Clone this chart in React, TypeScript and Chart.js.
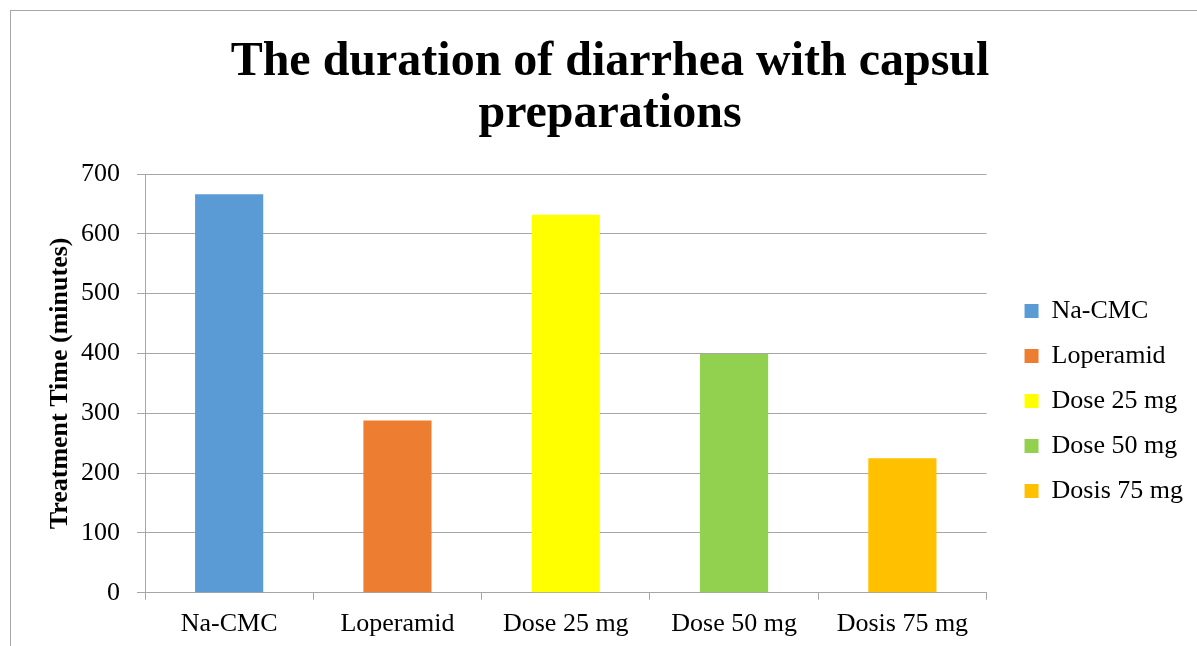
import React, { useEffect, useRef } from "react";
import { Chart, registerables } from "chart.js";

Chart.register(...registerables);

const categories = ["Na-CMC", "Loperamid", "Dose 25 mg", "Dose 50 mg", "Dosis 75 mg"];
const treatmentMinutes = [666, 288, 632, 399, 225];
const barColors = ["#5B9BD5", "#ED7D31", "#FFFF00", "#92D050", "#FFC000"];
const titleLines = ["The duration of diarrhea with capsul", "preparations"];
const yAxisTitle = "Treatment Time (minutes)";

const FONT = '"Liberation Serif", "Times New Roman", serif';
const GRID = "#a6a6a6";

export default function App() {
  const ref = useRef<HTMLCanvasElement | null>(null);

  useEffect(() => {
    if (!ref.current) return;
    const chart = new Chart(ref.current, {
      type: "bar",
      data: {
        labels: categories,
        datasets: [
          {
            label: yAxisTitle,
            data: treatmentMinutes,
            backgroundColor: barColors,
            borderWidth: 0,
            categoryPercentage: 1,
            barPercentage: 0.405,
            yAxisID: "y",
          },
        ],
      },
      options: {
        animation: false,
        responsive: false,
        devicePixelRatio: 1,
        layout: { padding: { top: 0, left: 16, right: 16, bottom: 0 } },
        plugins: {
          tooltip: { enabled: false },
          title: {
            display: true,
            text: titleLines,
            color: "#000",
            font: { family: FONT, size: 48, weight: "bold", lineHeight: 52 / 48 },
            padding: { top: 26, bottom: 33 },
          },
          legend: {
            display: true,
            position: "right",
            align: "center",
            fullSize: false,
            title: {
              display: true,
              text: " ",
              font: { size: 10 },
              padding: { top: 11.5, bottom: 11.5 },
            },
            labels: {
              color: "#000",
              font: { family: FONT, size: 26 },
              boxWidth: 14,
              boxHeight: 14,
              padding: 19,
              generateLabels: () =>
                categories.map((c, i) => ({
                  text: c,
                  fillStyle: barColors[i],
                  strokeStyle: barColors[i],
                  fontColor: "#000",
                  lineWidth: 0,
                  hidden: false,
                  index: i,
                  datasetIndex: 0,
                })),
            },
          },
        },
        scales: {
          x: {
            grid: {
              display: true,
              drawOnChartArea: false,
              drawTicks: true,
              tickLength: 7,
              color: GRID,
              offset: true,
            },
            border: { display: true, color: GRID },
            ticks: {
              color: "#000",
              font: { family: FONT, size: 26 },
              padding: 9,
              maxRotation: 0,
              autoSkip: false,
            },
          },
          y: {
            min: 0,
            max: 700,
            position: "left",
            grid: { color: GRID, tickLength: 8, drawTicks: true },
            border: { display: true, color: GRID },
            ticks: {
              stepSize: 100,
              color: "#000",
              font: { family: FONT, size: 26 },
              padding: 17,
            },
            title: {
              display: true,
              text: yAxisTitle,
              color: "#000",
              font: { family: FONT, size: 26, weight: "bold" },
              padding: { top: 18, bottom: 0 },
            },
            afterFit: (s: any) => {
              s.width = 118;
            },
          },
          y2: {
            type: "linear",
            position: "right",
            display: true,
            grid: { display: false },
            border: { display: false },
            ticks: { display: false },
            afterFit: (s: any) => {
              s.width = 19;
            },
          },
        },
      },
    } as any);
    return () => chart.destroy();
  }, []);

  return (
    <div
      style={{
        position: "fixed",
        left: 0,
        top: 0,
        width: 1197,
        height: 646,
        overflow: "hidden",
        background: "#fff",
      }}
    >
      <div
        style={{
          position: "absolute",
          left: 10,
          top: 10,
          width: 1250,
          height: 700,
          border: "1px solid #a6a6a6",
          boxSizing: "border-box",
        }}
      />
      <div style={{ position: "absolute", left: 11, top: 11, width: 1198, height: 638 }}>
        <canvas ref={ref} width={1198} height={638} style={{ display: "block" }} />
      </div>
    </div>
  );
}
